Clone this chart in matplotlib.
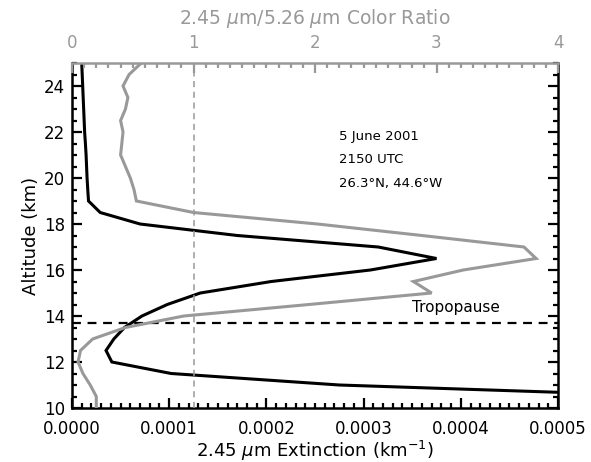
import matplotlib
matplotlib.use("Agg")
import matplotlib.pyplot as plt
from matplotlib.ticker import MultipleLocator

# Altitude grid (km)
altitude = [25.0, 24.5, 24.0, 23.5, 23.0, 22.5, 22.0, 21.5, 21.0, 20.5, 20.0,
            19.5, 19.0, 18.5, 18.0, 17.5, 17.0, 16.5, 16.0, 15.5, 15.0,
            14.5, 14.0, 13.5, 13.0, 12.5, 12.0, 11.5, 11.0, 10.5, 10.0]

# 2.45 um extinction (km^-1)
extinction = [1.00e-5, 1.05e-5, 1.10e-5, 1.15e-5, 1.20e-5, 1.25e-5, 1.30e-5,
              1.38e-5, 1.45e-5, 1.50e-5, 1.55e-5, 1.62e-5, 1.70e-5, 2.9e-5,
              7.0e-5, 1.70e-4, 3.15e-4, 3.75e-4, 3.07e-4, 2.05e-4, 1.32e-4,
              9.8e-5, 7.2e-5, 5.4e-5, 4.3e-5, 3.5e-5, 4.1e-5, 1.02e-4,
              2.75e-4, 6.3e-4, 1.0e-3]

# 2.45 um / 5.26 um color ratio
color_ratio = [0.57, 0.47, 0.42, 0.46, 0.44, 0.40, 0.42, 0.41, 0.40, 0.44, 0.48,
               0.51, 0.53, 1.00, 2.02, 2.88, 3.72, 3.82, 3.22, 2.81, 2.96,
               1.95, 0.92, 0.44, 0.17, 0.07, 0.05, 0.09, 0.15, 0.20, 0.20]

tropopause_alt = 13.7
ratio_ref = 1.0

ext_ticks = [0.0, 0.0001, 0.0002, 0.0003, 0.0004, 0.0005]
ext_labels = ["0.0000", "0.0001", "0.0002", "0.0003", "0.0004", "0.0005"]
ratio_ticks = [0, 1, 2, 3, 4]
alt_ticks = [10, 12, 14, 16, 18, 20, 22, 24]

GRAY = "#999999"
plt.rcParams['font.family'] = ['DejaVu Sans']

fig = plt.figure(figsize=(5.91, 4.62), dpi=100)
ax = fig.add_axes([72/591, 54/462, 486/591, 345/462])

ax.plot(extinction, altitude, color="black", lw=2.2, solid_joinstyle="miter", zorder=3)
ax.axhline(tropopause_alt, color="black", lw=1.6, ls=(0, (4, 3)), zorder=2)
ax.set_xlim(0, 0.0005)
ax.set_ylim(10, 25)
ax.set_xticks(ext_ticks)
ax.set_xticklabels(ext_labels)
ax.set_yticks(alt_ticks)
ax.xaxis.set_minor_locator(MultipleLocator(0.00001))
ax.yaxis.set_minor_locator(MultipleLocator(0.5))
ax.tick_params(axis="both", which="both", direction="in", colors="black",
               labelsize=12, width=1.6)
ax.tick_params(axis="x", which="major", length=7, pad=9, top=False)
ax.tick_params(axis="x", which="minor", length=3.5, top=False)
ax.tick_params(axis="y", which="major", length=7, pad=5, right=True)
ax.tick_params(axis="y", which="minor", length=3.5, right=True)
for s in ["left", "bottom", "right"]:
    ax.spines[s].set_linewidth(1.8)
ax.spines["top"].set_visible(False)
ax.set_xlabel(r"2.45 $\mu$m Extinction (km$^{-1}$)", fontsize=13, labelpad=0)
ax.set_ylabel("Altitude (km)", fontsize=13, labelpad=3)

ax2 = ax.twiny()
ax2.plot(color_ratio, altitude, color=GRAY, lw=2.2, solid_joinstyle="miter", zorder=3)
ax2.axvline(ratio_ref, color=GRAY, lw=1.1, ls=(0, (4, 3)), zorder=1)
ax2.set_xlim(0, 4)
ax2.set_ylim(10, 25)
ax2.set_xticks(ratio_ticks)
ax2.xaxis.set_minor_locator(MultipleLocator(0.1))
ax2.tick_params(axis="x", which="both", direction="in", colors=GRAY,
                labelsize=12, width=1.6)
ax2.tick_params(axis="x", which="major", length=7, pad=8)
ax2.tick_params(axis="x", which="minor", length=3.5)
ax2.spines["top"].set_color(GRAY)
ax2.spines["top"].set_linewidth(1.8)
for s in ["left", "bottom", "right"]:
    ax2.spines[s].set_visible(False)
ax2.set_xlabel(r"2.45 $\mu$m/5.26 $\mu$m Color Ratio", fontsize=13.5, color=GRAY, labelpad=7)

ax.text(0.549, 0.786, "5 June 2001", transform=ax.transAxes, fontsize=9.5, va="center", ha="left")
ax.text(0.549, 0.719, "2150 UTC", transform=ax.transAxes, fontsize=9.5, va="center", ha="left")
ax.text(0.549, 0.652, "26.3°N, 44.6°W", transform=ax.transAxes, fontsize=9.5, va="center", ha="left")
ax.text(0.000350, 14.35, "Tropopause", fontsize=11, va="center", ha="left")

fig.savefig("out.png", dpi=100)
